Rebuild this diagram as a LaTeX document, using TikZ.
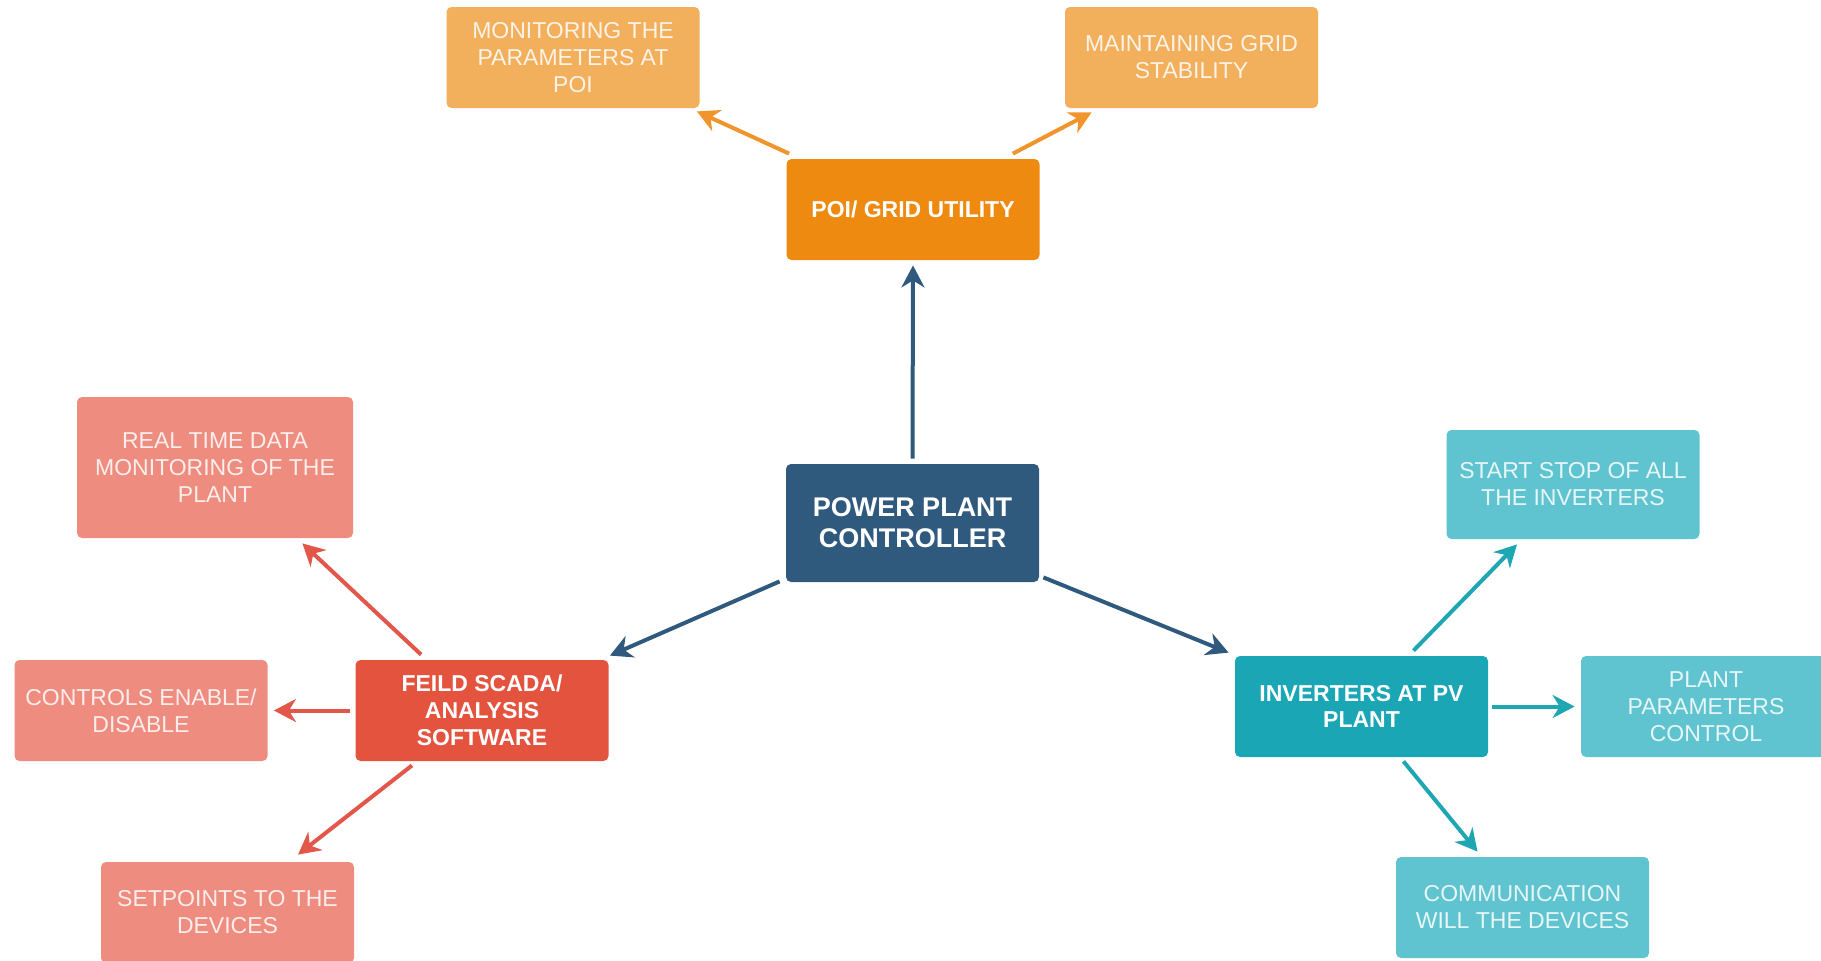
\documentclass[tikz,border=0pt]{standalone}
\usepackage{fontspec}
\setmainfont{Liberation Sans}
\usetikzlibrary{arrows.meta,calc}

% palette
\definecolor{navy}{HTML}{2F5A7E}
\definecolor{orgDark}{HTML}{EF8A10}
\definecolor{orgLight}{HTML}{F2AF5C}
\definecolor{orgArrow}{HTML}{EF952C}
\definecolor{redDark}{HTML}{E4533E}
\definecolor{redLight}{HTML}{EE8C80}
\definecolor{redArrow}{HTML}{E2574A}
\definecolor{tealDark}{HTML}{1BA6B5}
\definecolor{tealLight}{HTML}{5FC4CF}
\definecolor{tealArrow}{HTML}{1FA6B3}

\tikzset{
  box/.style={rectangle, rounded corners=2.5pt, inner sep=0pt, align=center,
    minimum width=126.5pt, minimum height=50.5pt},
  hub/.style={box, text=white, font=\fontsize{11.5}{13.4}\selectfont\bfseries},
  leaf/.style={box, font=\fontsize{11.5}{13.5}\selectfont},
  centre/.style={box, fill=navy, text=white, minimum height=59pt,
    font=\fontsize{13.5}{15.5}\selectfont\bfseries},
  poiHub/.style={hub, fill=orgDark},
  poiLeaf/.style={leaf, fill=orgLight, text=white!85!orgLight},
  scadaHub/.style={hub, fill=redDark},
  scadaLeaf/.style={leaf, fill=redLight, text=white!85!redLight},
  invHub/.style={hub, fill=tealDark},
  invLeaf/.style={leaf, fill=tealLight, text=white!85!tealLight},
  link/.style={line width=2pt,
    -{Stealth[length=11pt,width=11.5pt,inset=3.5pt]}},
}

\begin{document}
\begin{tikzpicture}[x=0.5pt,y=-0.5pt]
  \useasboundingbox (0,0) rectangle (1821,960);

  % central controller
  \node[centre] (ppc) at (912.5,523) {POWER PLANT\\CONTROLLER};

  % grid side
  \node[poiHub]  (poi) at (913,209.5)   {POI/ GRID UTILITY};
  \node[poiLeaf] (mon) at (573,57.5)    {MONITORING THE\\PARAMETERS AT\\POI};
  \node[poiLeaf] (mnt) at (1191.5,57.5) {MAINTAINING GRID\\STABILITY};

  % SCADA side
  \node[scadaHub]  (scd) at (482,710.5) {FEILD SCADA/\\ANALYSIS\\SOFTWARE};
  \node[scadaLeaf, minimum width=138pt, minimum height=70.5pt]
                   (rtd) at (215,467.5) {REAL TIME DATA\\MONITORING OF THE\\PLANT};
  \node[scadaLeaf] (ctl) at (141,710.5) {CONTROLS ENABLE/\\DISABLE};
  \node[scadaLeaf] (set) at (227.5,912.5) {SETPOINTS TO THE\\DEVICES};

  % inverter side
  \node[invHub]  (inv) at (1361.5,706.5) {INVERTERS AT PV\\PLANT};
  \node[invLeaf, minimum height=54.5pt]
                 (sts) at (1573,484.5)   {START STOP OF ALL\\THE INVERTERS};
  \node[invLeaf, minimum width=125pt]
                 (par) at (1706,706.5)   {PLANT\\PARAMETERS\\CONTROL};
  \node[invLeaf] (com) at (1522.5,907.5) {COMMUNICATION\\WILL THE DEVICES};

  % controller links
  \draw[link, navy] ($(ppc.north)+(0,-5)$) -- ($(poi.south)+(0,5)$);
  \draw[link, navy] ($(ppc.south west)+(-6,-1)$) -- ($(scd.north east)+(1,-4)$);
  \draw[link, navy] ($(ppc.south east)+(4,-5)$) -- ($(inv.north west)+(-6,-3)$);

  % grid links
  \draw[link, orgArrow] ($(poi.north west)+(3,-5)$) -- ($(mon.south east)+(-3,3)$);
  \draw[link, orgArrow] ($(poi.north east)+(-27,-5)$) -- ($(mnt.south west)+(27,4)$);

  % SCADA links
  \draw[link, redArrow] ($(scd.north west)+(66,-5)$) -- ($(rtd.south east)+(-51,5)$);
  \draw[link, redArrow] ($(scd.west)+(-5,0)$) -- ($(ctl.east)+(6,0)$);
  \draw[link, redArrow] ($(scd.south)+(-70,4)$) -- ($(set.north)+(70.5,-7)$);

  % inverter links
  \draw[link, tealArrow] ($(inv.north)+(52,-5)$) -- ($(sts.south)+(-56,5)$);
  \draw[link, tealArrow] ($(inv.east)+(4,0)$) -- ($(par.west)+(-6,0)$);
  \draw[link, tealArrow] ($(inv.south)+(42,4)$) -- ($(com.north)+(-45,-5)$);
\end{tikzpicture}
\end{document}
